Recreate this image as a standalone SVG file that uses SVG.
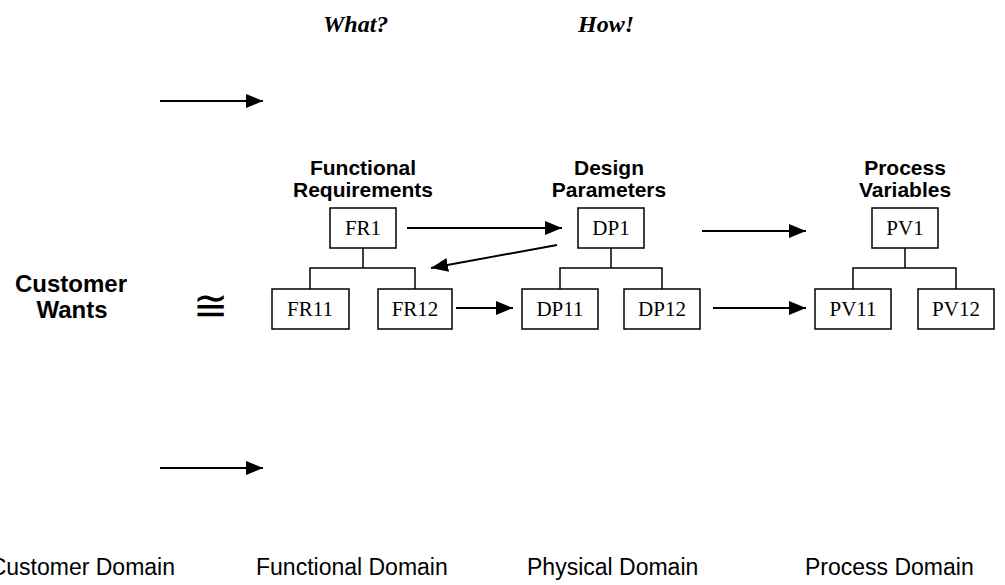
<svg xmlns="http://www.w3.org/2000/svg" width="1005" height="585" viewBox="0 0 1005 585">
<defs>
<marker id="ah" viewBox="0 0 17 14" refX="17" refY="7" markerWidth="17" markerHeight="14" markerUnits="userSpaceOnUse" orient="auto">
<path d="M0,0 L17,7 L0,14 Z" fill="#000"/>
</marker>
<style>
.box{fill:#fff;stroke:#000;stroke-width:1.5}
.tree{fill:none;stroke:#000;stroke-width:1.5}
.arr{fill:none;stroke:#000;stroke-width:2;marker-end:url(#ah)}
.lbl{font-family:"Liberation Serif","Times New Roman",serif;font-size:21px;text-anchor:middle}
.hd{font-family:"Liberation Sans",Arial,sans-serif;font-weight:bold;font-size:21px;text-anchor:middle}
.q{font-family:"Liberation Serif","Times New Roman",serif;font-weight:bold;font-style:italic;font-size:24px}
.dom{font-family:"Liberation Sans",Arial,sans-serif;font-size:23px}
</style>
</defs>
<rect width="1005" height="585" fill="#fff"/>
<text class="q" x="323" y="32">What?</text>
<text class="q" x="578" y="32">How!</text>
<g id="customer-wants">
<text class="hd" x="71" y="292" style="font-size:24px">Customer</text>
<text class="hd" x="72" y="318" style="font-size:24px">Wants</text>
</g>
<text x="210" y="320" style="font-family:'DejaVu Serif',serif;font-size:42px;text-anchor:middle">≅</text>
<g id="fr-heading">
<text class="hd" x="363" y="175">Functional</text>
<text class="hd" x="363" y="197">Requirements</text>
</g>
<g id="dp-heading">
<text class="hd" x="609" y="175">Design</text>
<text class="hd" x="609" y="197">Parameters</text>
</g>
<g id="pv-heading">
<text class="hd" x="905" y="175">Process</text>
<text class="hd" x="905" y="197">Variables</text>
</g>
<g id="fr-tree" class="tree">
<path d="M363,248 V268 M310,289 V268 H415 V289"/>
</g>
<g id="dp-tree" class="tree">
<path d="M611,248 V268 M560,289 V268 H662 V289"/>
</g>
<g id="pv-tree" class="tree">
<path d="M905,248 V268 M853,289 V268 H956 V289"/>
</g>
<g id="FR1"><rect class="box" x="330" y="208" width="66" height="40"/><text class="lbl" x="363" y="235">FR1</text></g>
<g id="FR11"><rect class="box" x="272" y="289" width="77" height="40"/><text class="lbl" x="310" y="316">FR11</text></g>
<g id="FR12"><rect class="box" x="378" y="289" width="74" height="40"/><text class="lbl" x="415" y="316">FR12</text></g>
<g id="DP1"><rect class="box" x="578" y="208" width="66" height="40"/><text class="lbl" x="611" y="235">DP1</text></g>
<g id="DP11"><rect class="box" x="522" y="289" width="76" height="40"/><text class="lbl" x="560" y="316">DP11</text></g>
<g id="DP12"><rect class="box" x="624" y="289" width="76" height="40"/><text class="lbl" x="662" y="316">DP12</text></g>
<g id="PV1"><rect class="box" x="872" y="208" width="66" height="40"/><text class="lbl" x="905" y="235">PV1</text></g>
<g id="PV11"><rect class="box" x="815" y="289" width="76" height="40"/><text class="lbl" x="853" y="316">PV11</text></g>
<g id="PV12"><rect class="box" x="918" y="289" width="76" height="40"/><text class="lbl" x="956" y="316">PV12</text></g>
<g id="connectors">
<line class="arr" x1="160" y1="101" x2="263" y2="101"/>
<line class="arr" x1="160" y1="468" x2="263" y2="468"/>
<line class="arr" x1="407" y1="228" x2="562" y2="228"/>
<line class="arr" x1="557" y1="245" x2="431" y2="268"/>
<line class="arr" x1="456" y1="308" x2="513" y2="308"/>
<line class="arr" x1="702" y1="231" x2="806" y2="231"/>
<line class="arr" x1="713" y1="308" x2="806" y2="308"/>
</g>
<g id="domains">
<text class="dom" x="175" y="575" text-anchor="end">Customer Domain</text>
<text class="dom" x="256" y="575">Functional Domain</text>
<text class="dom" x="527" y="575">Physical Domain</text>
<text class="dom" x="805" y="575">Process Domain</text>
</g>
</svg>
